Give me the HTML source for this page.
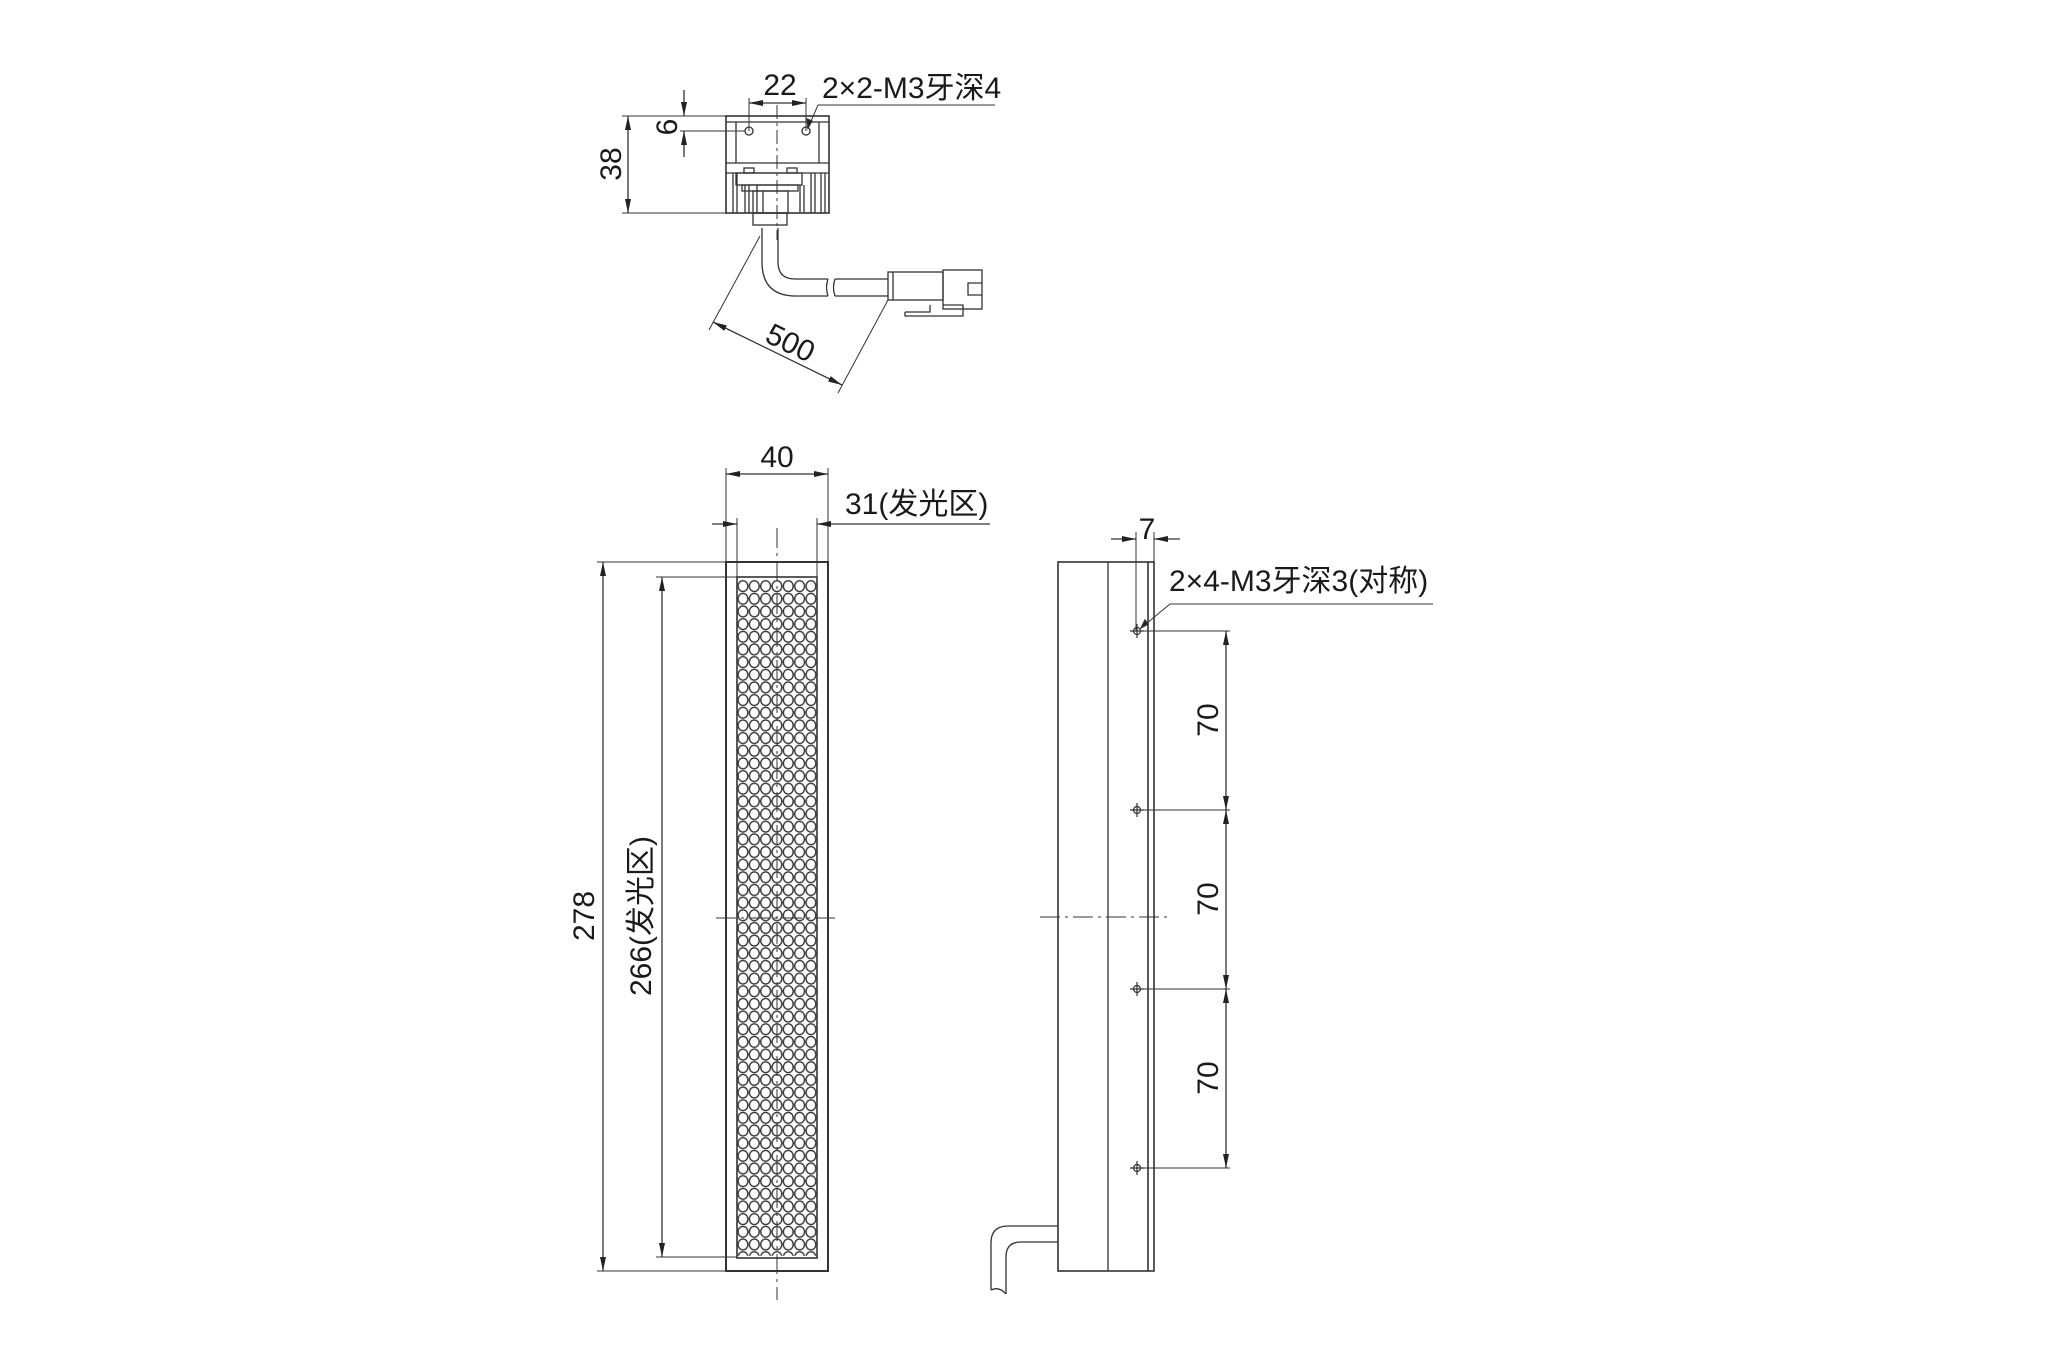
<!DOCTYPE html>
<html><head><meta charset="utf-8"><style>
html,body{margin:0;padding:0;background:#fff;}
svg{display:block}
text{font-family:"Liberation Sans","Noto Sans CJK SC",sans-serif;fill:#1a1a1a}
</style></head><body>
<svg width="2048" height="1366" viewBox="0 0 2048 1366" xmlns="http://www.w3.org/2000/svg">
<defs>
<marker id="a" viewBox="0 0 14 6" refX="14" refY="3" markerWidth="14" markerHeight="6" markerUnits="userSpaceOnUse" orient="auto-start-reverse"><path d="M0,0 L14,3 L0,6 z" fill="#222"/></marker>
<pattern id="led" x="737.3" y="579.8" width="11.33" height="12.66" patternUnits="userSpaceOnUse"><ellipse cx="5.66" cy="6.33" rx="4.9" ry="5.4" fill="none" stroke="#333" stroke-width="1.4"/></pattern>
</defs>
<g stroke="#333" fill="none" stroke-width="1.3">
<!-- ===== TOP VIEW ===== -->
<rect x="726" y="116" width="103" height="97" stroke-width="1.6"/>
<line x1="726" y1="122" x2="829" y2="122"/>
<line x1="736" y1="122" x2="736" y2="163"/><line x1="819" y1="122" x2="819" y2="163"/>
<line x1="726" y1="163" x2="829" y2="163"/>
<line x1="726" y1="173" x2="829" y2="173"/>
<path d="M733,173V213M737,173V213M745,185V213M749,185V213M757,185V213 M800,185V213M804,185V213M811,173V213M815,173V213M821,173V213M825,173V213"/>
<rect x="736" y="173" width="66" height="12"/>
<rect x="742" y="185" width="56" height="6"/>
<rect x="744" y="168" width="10" height="5"/><rect x="787" y="168" width="10" height="5"/>
<rect x="753" y="191" width="35" height="22"/>
<line x1="763" y1="191" x2="763" y2="213"/>
<rect x="753" y="213" width="34" height="12"/>
<circle cx="749" cy="131" r="4"/><circle cx="806" cy="131" r="4"/>
<line x1="777" y1="105" x2="777" y2="240" stroke-dasharray="14,4,3,4" stroke-width="1"/>
<path d="M762,228 V262 Q762,296 796,296 H828"/>
<path d="M778,228 V262 Q778,279 795,279 H828"/>
<path d="M828,279 q-3,8 0,17 M835,279 q-3,8 0,17"/>
<path d="M835,279 H888 M835,296 H888"/>
<rect x="888" y="272" width="55" height="28"/>
<line x1="893" y1="272" x2="893" y2="300"/>
<rect x="943" y="270" width="39" height="39"/>
<path d="M982,283 H968 V295 H982"/>
<path d="M905,312 V316 H963 V305 H943"/>
<path d="M905,312 H930 V305"/>
<line x1="622" y1="116" x2="726" y2="116" stroke-width="1"/>
<line x1="622" y1="213" x2="726" y2="213" stroke-width="1"/>
<line x1="628" y1="116" x2="628" y2="213" marker-start="url(#a)" marker-end="url(#a)"/>
<line x1="680" y1="131" x2="745" y2="131" stroke-width="1"/>
<line x1="684" y1="90" x2="684" y2="116" marker-end="url(#a)"/>
<line x1="684" y1="157" x2="684" y2="131" marker-end="url(#a)"/>
<line x1="749" y1="98" x2="749" y2="131" stroke-width="1"/>
<line x1="806" y1="98" x2="806" y2="131" stroke-width="1"/>
<line x1="749" y1="103" x2="806" y2="103" marker-start="url(#a)" marker-end="url(#a)"/>
<path d="M995,105 H818 L808,128" stroke-width="1"/>
<path d="M808,128 l-1,-9 l5,2 z" fill="#222"/>
<line x1="760" y1="236" x2="709" y2="330" stroke-width="1"/>
<line x1="888" y1="300" x2="838" y2="393" stroke-width="1"/>
<line x1="713" y1="322" x2="842" y2="385" marker-start="url(#a)" marker-end="url(#a)"/>

<!-- ===== FRONT VIEW ===== -->
<rect x="726" y="562" width="102" height="709" stroke-width="2"/>
<rect x="737" y="577" width="80" height="681" stroke-width="1.6"/>
<rect x="737.5" y="579.8" width="79" height="676" fill="url(#led)" stroke="none"/>
<line x1="777" y1="528" x2="777" y2="1300" stroke-dasharray="20,5,3,5" stroke-width="1"/>
<line x1="716" y1="918" x2="840" y2="918" stroke-dasharray="20,5,3,5" stroke-width="1"/>
<line x1="726" y1="468" x2="726" y2="562" stroke-width="1"/>
<line x1="828" y1="468" x2="828" y2="562" stroke-width="1"/>
<line x1="726" y1="474" x2="828" y2="474" marker-start="url(#a)" marker-end="url(#a)"/>
<line x1="737" y1="518" x2="737" y2="577" stroke-width="1"/>
<line x1="817" y1="518" x2="817" y2="577" stroke-width="1"/>
<line x1="712" y1="524" x2="737" y2="524" marker-end="url(#a)"/>
<line x1="990" y1="524" x2="817" y2="524" marker-end="url(#a)"/>
<line x1="597" y1="562" x2="726" y2="562" stroke-width="1"/>
<line x1="597" y1="1271" x2="726" y2="1271" stroke-width="1"/>
<line x1="603" y1="562" x2="603" y2="1271" marker-start="url(#a)" marker-end="url(#a)"/>
<line x1="656" y1="577" x2="737" y2="577" stroke-width="1"/>
<line x1="656" y1="1257" x2="737" y2="1257" stroke-width="1"/>
<line x1="662" y1="577" x2="662" y2="1257" marker-start="url(#a)" marker-end="url(#a)"/>

<!-- ===== SIDE VIEW ===== -->
<rect x="1058" y="562" width="96" height="709" stroke-width="1.6"/>
<line x1="1108" y1="562" x2="1108" y2="1271"/>
<line x1="1148" y1="562" x2="1148" y2="1271" stroke-width="1.6"/>
<line x1="1040" y1="917" x2="1170" y2="917" stroke-dasharray="20,5,3,5" stroke-width="1"/>
<g stroke-width="1.2">
<circle cx="1137" cy="631" r="3.5"/><path d="M1130,631H1144M1137,624V638"/>
<circle cx="1137" cy="810" r="3.5"/><path d="M1130,810H1144M1137,803V817"/>
<circle cx="1137" cy="989" r="3.5"/><path d="M1130,989H1144M1137,982V996"/>
<circle cx="1137" cy="1168" r="3.5"/><path d="M1130,1168H1144M1137,1161V1175"/>
</g>
<line x1="1136" y1="532" x2="1136" y2="631" stroke-width="1"/>
<line x1="1154" y1="532" x2="1154" y2="562" stroke-width="1"/>
<line x1="1111" y1="539" x2="1136" y2="539" marker-end="url(#a)"/>
<line x1="1180" y1="539" x2="1154" y2="539" marker-end="url(#a)"/>
<path d="M1433,604 H1170 L1141,628" stroke-width="1"/>
<path d="M1141,628 l4,-8 l3,4 z" fill="#222"/>
<path d="M1141,631H1230M1141,810H1230M1141,989H1230M1141,1168H1230" stroke-width="1"/>
<line x1="1226" y1="631" x2="1226" y2="810" marker-start="url(#a)" marker-end="url(#a)"/>
<line x1="1226" y1="810" x2="1226" y2="989" marker-start="url(#a)" marker-end="url(#a)"/>
<line x1="1226" y1="989" x2="1226" y2="1168" marker-start="url(#a)" marker-end="url(#a)"/>
<path d="M1058,1226 H1008 Q991,1226 991,1243 V1290"/>
<path d="M1058,1242 H1021 Q1006,1242 1006,1257 V1294"/>
<path d="M991,1290 q8,-4 15,4"/>
</g>
<text x="780" y="95" font-size="30" text-anchor="middle">22</text>
<text x="822" y="98" font-size="30">2×2-M3牙深4</text>
<text font-size="30" text-anchor="middle" transform="translate(677,127) rotate(-90)">6</text>
<text font-size="30" text-anchor="middle" transform="translate(621,164) rotate(-90)">38</text>
<text font-size="30" text-anchor="middle" transform="translate(786,352) rotate(26)">500</text>
<text x="777" y="467" font-size="30" text-anchor="middle">40</text>
<text x="845" y="514" font-size="30">31(发光区)</text>
<text font-size="30" text-anchor="middle" transform="translate(594,916) rotate(-90)">278</text>
<text font-size="30" text-anchor="middle" transform="translate(651,916) rotate(-90)">266(发光区)</text>
<text x="1147" y="539" font-size="30" text-anchor="middle">7</text>
<text x="1169" y="591" font-size="30">2×4-M3牙深3(对称)</text>
<text font-size="30" text-anchor="middle" transform="translate(1218,720) rotate(-90)">70</text>
<text font-size="30" text-anchor="middle" transform="translate(1218,899) rotate(-90)">70</text>
<text font-size="30" text-anchor="middle" transform="translate(1218,1078) rotate(-90)">70</text>
</svg>
</body></html>
